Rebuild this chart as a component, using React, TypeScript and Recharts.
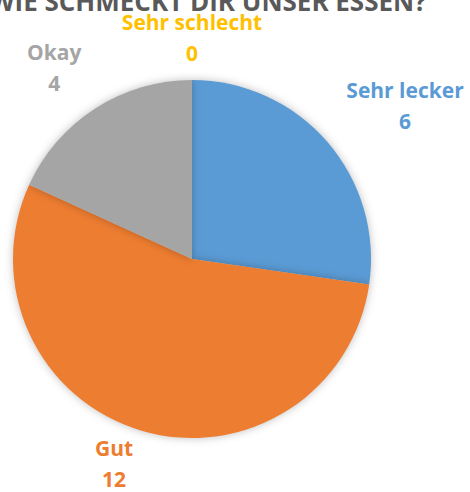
import React from "react";
import { PieChart, Pie, Cell } from "recharts";

const categories = ["Sehr lecker", "Gut", "Okay", "Sehr schlecht"];
const values = [6, 12, 4, 0];
const colors = ["#5B9BD5", "#ED7D31", "#A5A5A5", "#FFC000"];
const title = "WIE SCHMECKT DIR UNSER ESSEN?";

const labelPlacement = [
  { r: 263, da: -5 },
  { r: 218, da: -4.6 },
  { r: 236, da: 3 },
  { r: 222, da: 0 },
];

const data = categories.map((name, i) => ({ name, value: values[i] }));

const FONT = "'Open Sans', Lato, sans-serif";

const renderLabel = (props: any) => {
  const { cx, cy, midAngle, index } = props;
  const p = labelPlacement[index];
  const ang = ((midAngle + p.da) * Math.PI) / 180;
  const x = cx + p.r * Math.cos(ang);
  const y = cy - p.r * Math.sin(ang);
  return (
    <g key={`lbl-${index}`}>
      <text
        x={x}
        y={y - 15}
        textAnchor="middle"
        dominantBaseline="central"
        fill={colors[index]}
        fontFamily={FONT}
        fontWeight={700}
        fontSize={21}
      >
        {data[index].name}
      </text>
      <text
        x={x}
        y={y + 16}
        textAnchor="middle"
        dominantBaseline="central"
        fill={colors[index]}
        fontFamily={FONT}
        fontWeight={700}
        fontSize={21}
      >
        {data[index].value}
      </text>
    </g>
  );
};

export default function App() {
  return (
    <div style={{ position: "absolute", left: 0, top: 0, width: 470, height: 492, background: "#fff" }}>
      <svg width={470} height={40} style={{ position: "absolute", left: 0, top: 0 }}>
        <text
          x={208}
          y={11}
          textAnchor="middle"
          fill="#595959"
          fontFamily={FONT}
          fontWeight={700}
          fontSize={26}
        >
          {title}
        </text>
      </svg>
      <div style={{ position: "absolute", left: 0, top: 0 }}>
        <PieChart width={470} height={492} margin={{ top: 0, right: 0, bottom: 0, left: 0 }}>
          <Pie
            data={data}
            dataKey="value"
            nameKey="name"
            cx={192}
            cy={259}
            outerRadius={179}
            startAngle={90}
            endAngle={-270}
            stroke="none"
            label={renderLabel}
            labelLine={false}
            isAnimationActive={false}
            style={{ filter: "drop-shadow(0px 0px 4px rgba(0,0,0,0.25))" }}
          >
            {data.map((d, i) => (
              <Cell key={d.name} fill={colors[i]} />
            ))}
          </Pie>
        </PieChart>
      </div>
    </div>
  );
}
